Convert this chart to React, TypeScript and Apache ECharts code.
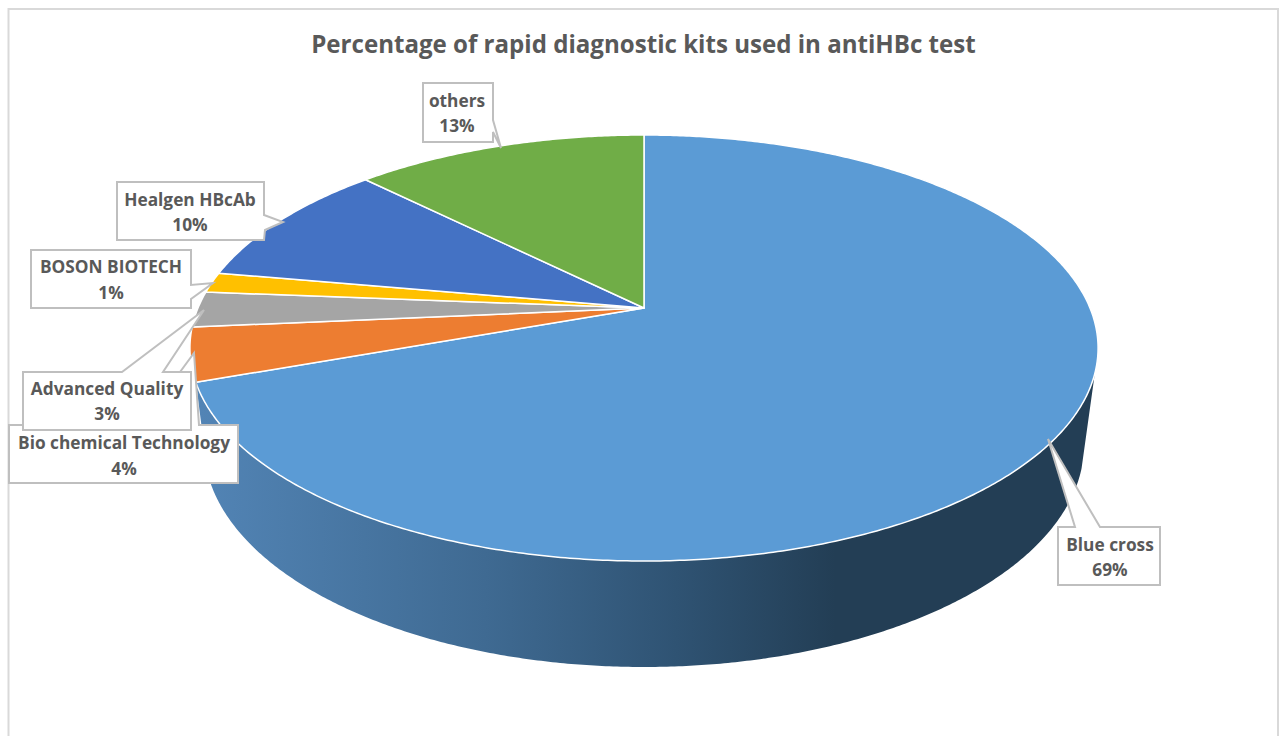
import React, { useEffect, useRef } from "react";
import * as echarts from "echarts";

// ---- data (clockwise from 12 o'clock) ----
const categories = ["Blue cross", "Bio chemical Technology", "Advanced Quality", "BOSON BIOTECH", "Healgen HBcAb", "others"];
const sliceShares = [69.5, 4.05, 2.7, 1.55, 9.7, 12.5];
const percentLabels = ["69%", "4%", "3%", "1%", "10%", "13%"];
const sliceColors = ["#5b9bd5", "#ed7d31", "#a5a5a5", "#ffc000", "#4472c4", "#70ad47"];
const titleText = "Percentage of rapid diagnostic kits used in antiHBc test";

// ---- layout ----
const W = 1279;
const H = 736;
const APEX_X = 644;
const APEX_Y = 308;
const TOP_A = 446;
const TOP_B = 205.5;
const TOP_K = -0.1878;
const BASE_CY = 445;
const BASE_RX = 440;
const BASE_RY = 222;
const WALL_START_DEG = 107.5;
const BASE_START_DEG = 96;
const BASE_END_DEG = 270;

const calloutOutlines: number[][][] = [
  [[1058, 527], [1075, 527], [1048, 439], [1100, 527], [1160, 527], [1160, 585], [1058, 585]],
  [[9, 425], [141, 425], [194, 353], [199, 425], [238, 425], [238, 483], [9, 483]],
  [[23, 372], [122, 372], [204, 310], [163, 372], [191, 372], [191, 430], [23, 430]],
  [[31, 250], [191, 250], [191, 285], [213, 283], [191, 299], [191, 308], [31, 308]],
  [[117, 182], [264, 182], [264, 215], [283, 222], [265, 230], [264, 240], [117, 240]],
  [[423, 83], [493, 83], [493, 120], [501, 148], [493, 132], [493, 142], [423, 142]],
];
const calloutTextCenters: number[][] = [
  [1110, 557],
  [124, 455.5],
  [107, 401],
  [111, 279.5],
  [190, 212],
  [457, 113],
];

const total = sliceShares.reduce((a, b) => a + b, 0);
const deg = (share: number) => (share / total) * 360;

function rimPoint(angleDeg: number): number[] {
  const t = (angleDeg * Math.PI) / 180;
  const u = Math.sin(t);
  const v = -Math.cos(t);
  const w = 1 + TOP_K * v;
  return [APEX_X + (TOP_A * u) / w, APEX_Y + (TOP_B * v) / w];
}

function basePoint(angleDeg: number): number[] {
  const t = (angleDeg * Math.PI) / 180;
  return [APEX_X + BASE_RX * Math.sin(t), BASE_CY - BASE_RY * Math.cos(t)];
}

function arcPoints(fn: (a: number) => number[], from: number, to: number): number[][] {
  const steps = Math.max(2, Math.ceil(Math.abs(to - from) * 2));
  const pts: number[][] = [];
  for (let i = 0; i <= steps; i++) pts.push(fn(from + ((to - from) * i) / steps));
  return pts;
}

function sliceStart(index: number): number {
  let s = 0;
  for (let i = 0; i < index; i++) s += deg(sliceShares[i]);
  return s;
}

export default function App() {
  const ref = useRef<HTMLDivElement>(null);

  useEffect(() => {
    if (!ref.current) return;
    const chart = echarts.init(ref.current, undefined, { renderer: "svg" });
    const rows = sliceShares.map((v, i) => [i, v]);

    chart.setOption({
      animation: false,
      backgroundColor: "#ffffff",
      title: {
        text: titleText,
        left: 638.5,
        top: 26,
        textAlign: "center",
        textStyle: {
          fontFamily: "Open Sans",
          fontWeight: 700,
          fontSize: 24.1,
          color: "#595959",
        },
      },
      graphic: [
        {
          type: "rect",
          silent: true,
          z: 0,
          shape: { x: 8.5, y: 9, width: 1269.5, height: 800 },
          style: { fill: "none", stroke: "#d9d9d9", lineWidth: 2 },
        },
      ],
      series: [
        {
          type: "custom",
          coordinateSystem: "none",
          z: 1,
          silent: true,
          clip: false,
          data: [rows[0]],
          renderItem: () => {
            const blueEnd = deg(sliceShares[0]);
            const pts = [
              ...arcPoints(rimPoint, WALL_START_DEG, blueEnd),
              ...arcPoints(basePoint, BASE_END_DEG, BASE_START_DEG),
            ];
            return {
              type: "polygon",
              shape: { points: pts },
              style: {
                fill: {
                  type: "linear",
                  x: 200,
                  y: 0,
                  x2: 835,
                  y2: 0,
                  global: true,
                  colorStops: [
                    { offset: 0, color: "#5284b5" },
                    { offset: 0.45, color: "#3f6a92" },
                    { offset: 0.75, color: "#2f5373" },
                    { offset: 1, color: "#233e55" },
                  ],
                },
                stroke: "none",
              },
            };
          },
        },
        {
          type: "custom",
          coordinateSystem: "none",
          z: 2,
          silent: true,
          clip: false,
          data: rows,
          renderItem: (params: any, api: any) => {
            const i = params.dataIndex;
            const start = sliceStart(i);
            const end = start + deg(api.value(1));
            return {
              type: "polygon",
              shape: { points: [[APEX_X, APEX_Y], ...arcPoints(rimPoint, start, end)] },
              style: {
                fill: sliceColors[i],
                stroke: "#ffffff",
                lineWidth: 1.5,
                lineJoin: "round",
              },
            };
          },
        },
        {
          type: "custom",
          coordinateSystem: "none",
          z: 3,
          silent: true,
          clip: false,
          data: rows,
          renderItem: (params: any) => {
            const i = params.dataIndex;
            const [cx, cy] = calloutTextCenters[i];
            return {
              type: "group",
              children: [
                {
                  type: "polygon",
                  shape: { points: calloutOutlines[i] },
                  style: { fill: "#ffffff", stroke: "#bfbfbf", lineWidth: 2 },
                },
                {
                  type: "text",
                  style: {
                    x: cx,
                    y: cy,
                    text: `${categories[i]}\n${percentLabels[i]}`,
                    align: "center",
                    verticalAlign: "middle",
                    fontFamily: "Open Sans",
                    fontWeight: 700,
                    fontSize: 17.3,
                    lineHeight: 25.6,
                    fill: "#595959",
                  },
                },
              ],
            };
          },
        },
      ],
    });

    return () => chart.dispose();
  }, []);

  return <div ref={ref} style={{ position: "absolute", left: 0, top: 0, width: W, height: H }} />;
}
